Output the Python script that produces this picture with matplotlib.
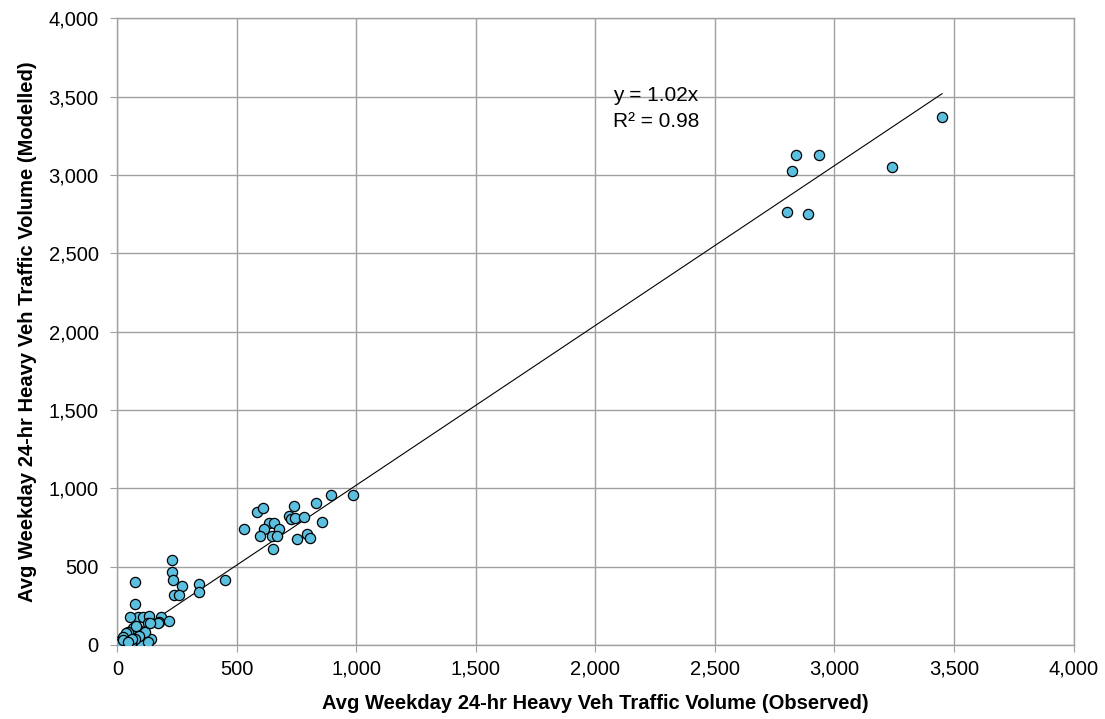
import matplotlib.pyplot as plt
from matplotlib.ticker import FuncFormatter

# observed vs modelled heavy vehicle volumes
observed = [2839, 2934, 2822, 3241, 3450, 2800, 2890,
            529, 585, 610, 635, 655, 614, 677, 596, 645, 666, 649, 738, 719, 726,
            743, 780, 829, 892, 985, 856, 751, 794, 805,
            227, 227, 231, 271, 236, 259, 341, 342, 448,
            72, 72, 86, 107, 130, 183, 174, 215, 128, 141, 83, 93, 72, 30, 16, 0,
            51, 107, 114, 65, 100, 128, 44, 51, 78, 89, 37, 23, 72, 2, 0, 16, 58,
            169, 135, 8, 25, 60, 45]
modelled = [3125, 3130, 3027, 3049, 3368, 2766, 2753,
            739, 848, 872, 776, 780, 739, 739, 697, 697, 693, 614, 888, 824, 801,
            812, 818, 904, 957, 959, 782, 676, 706, 680,
            541, 467, 414, 377, 318, 318, 386, 335, 412,
            399, 259, 179, 179, 184, 179, 144, 154, 141, 37, 105, 90, 63, 52, 20, 0,
            10, 31, 84, 105, 10, 20, 84, 179, 120, 58, 73, 48, 35, 20, 5, 10, 10,
            141, 141, 2, 30, 40, 15]

slope = 1.02
r2 = 0.98

xticks = list(range(0, 4001, 500))
yticks = list(range(0, 4001, 500))

plt.rcParams['font.family'] = ['Liberation Sans', 'DejaVu Sans']

fig = plt.figure(figsize=(11.05, 7.19), dpi=100)
ax = fig.add_axes([0.1063, 0.1032, 0.8652, 0.8712])

#網格
ax.grid(True, color='#a0a0a0', linewidth=1.0)
ax.set_axisbelow(True)

# 趨勢線
xmax = max(observed)
ax.plot([0, xmax], [0, slope * xmax], color='black', linewidth=0.8, zorder=2)

ax.scatter(observed, modelled, s=54, color='#5bc0e0', edgecolors='black',
           linewidths=0.9, zorder=3)

# 公式
ax.text(2073, 3474, 'y = %.2fx' % slope, fontsize=15, va='baseline', ha='left', zorder=4)
ax.text(2073, 3308, 'R² = %.2f' % r2, fontsize=15, va='baseline', ha='left', zorder=4)

ax.set_xlim(0, 4000)
ax.set_ylim(0, 4000)
ax.set_xticks(xticks)
ax.set_yticks(yticks)
fmt = FuncFormatter(lambda v, p: '{:,.0f}'.format(v))
ax.xaxis.set_major_formatter(fmt)
ax.yaxis.set_major_formatter(fmt)

ax.tick_params(axis='both', direction='out', length=5, color='#a0a0a0',
               labelsize=14.5)
ax.tick_params(axis='x', pad=5.8)
ax.tick_params(axis='y', pad=8.6)
for sp in ax.spines.values():
    sp.set_color('#a0a0a0')
    sp.set_linewidth(1.0)

ax.set_xlabel('Avg Weekday 24-hr Heavy Veh Traffic Volume (Observed)',
              fontsize=14.5, fontweight='bold')
ax.set_ylabel('Avg Weekday 24-hr Heavy Veh Traffic Volume (Modelled)',
              fontsize=14.5, fontweight='bold')
ax.xaxis.set_label_coords(0.5, -0.0785)
ax.yaxis.set_label_coords(-0.0845, 0.5)

fig.savefig('out.png', dpi=100)
